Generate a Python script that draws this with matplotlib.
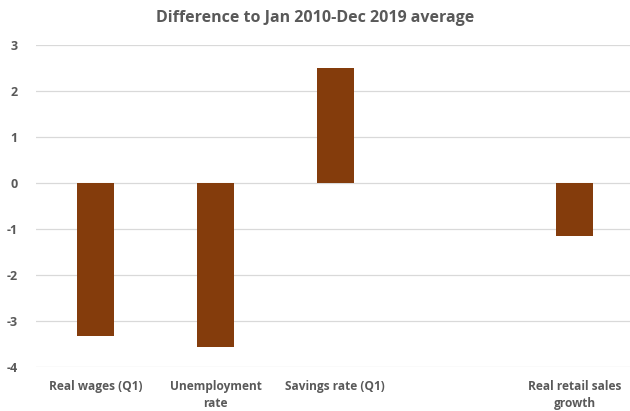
import numpy as np
import matplotlib.pyplot as plt

# ── Data ──────────────────────────────────────────────────────────────────────
categories = ["Real wages (Q1)", "Unemployment\nrate", "Savings rate (Q1)",
              "", "Real retail sales\ngrowth"]
values = [-3.33, -3.57, 2.50, np.nan, -1.16]
yticks = [3, 2, 1, 0, -1, -2, -3, -4]

BAR_COLOR = "#843C0C"
TEXT_COLOR = "#595959"
GRID_COLOR = "#D9D9D9"

plt.rcParams.update({
    "font.family": ["Open Sans", "DejaVu Sans"],
})

fig = plt.figure(figsize=(6.3, 4.11), dpi=100)
ax = fig.add_axes([0.057, 0.107, 0.95, 0.783])

x = np.arange(len(categories))
ax.bar(x, values, width=0.31, color=BAR_COLOR, zorder=3)

ax.set_xlim(-0.5, len(categories) - 0.5)
ax.set_ylim(-4, 3)
ax.set_yticks(yticks)
ax.set_yticklabels([str(t) for t in yticks], fontsize=9, fontweight="bold",
                   color=TEXT_COLOR)
ax.yaxis.grid(True, color=GRID_COLOR, lw=0.9, zorder=0)
ax.tick_params(axis="y", length=0, pad=13)
ax.tick_params(axis="x", length=0, pad=9)
ax.set_xticks(x)
ax.set_xticklabels(categories, fontsize=8.6, fontweight="bold", color=TEXT_COLOR,
                   linespacing=1.45, va="top")
for s in ax.spines.values():
    s.set_visible(False)

fig.text(0.5, 0.957, "Difference to Jan 2010-Dec 2019 average", ha="center",
         va="center", fontsize=11.5, fontweight="bold", color=TEXT_COLOR)

fig.savefig("out.png", dpi=100)
